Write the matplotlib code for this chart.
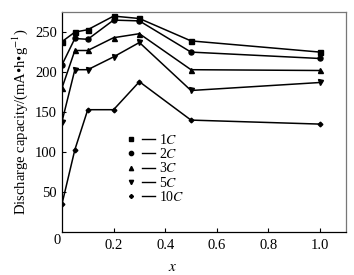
import matplotlib
matplotlib.use("Agg")
import matplotlib.pyplot as plt
from matplotlib.legend_handler import HandlerTuple
from matplotlib.lines import Line2D

plt.rcParams["font.family"] = ["Liberation Serif", "DejaVu Serif"]
plt.rcParams["mathtext.fontset"] = "stix"

x_values = [0, 0.05, 0.1, 0.2, 0.3, 0.5, 1.0]
cap_1c = [238, 250, 253, 270, 267, 239, 225]
cap_2c = [209, 242, 241, 265, 264, 225, 217]
cap_3c = [180, 227, 227, 243, 248, 203, 202]
cap_5c = [138, 203, 203, 219, 237, 177, 187]
cap_10c = [35, 103, 153, 153, 188, 140, 135]

series_labels = ["1$C$", "2$C$", "3$C$", "5$C$", "10$C$"]
series_markers = ["s", "o", "^", "v", "D"]
series_sizes = [3.6, 3.6, 3.6, 3.6, 2.4]

fig = plt.figure(figsize=(3.54, 2.75), dpi=100)
ax = fig.add_axes([0.175, 0.156, 0.802, 0.80])

handles = []
for vals, lab, mk, ms in zip([cap_1c, cap_2c, cap_3c, cap_5c, cap_10c],
                             series_labels, series_markers, series_sizes):
    ax.plot(x_values, vals, color="black", lw=1.1, marker=mk, ms=ms)
    mk_h = Line2D([], [], color="black", marker=mk, ms=ms * 0.85, ls="none")
    ln_h = Line2D([], [], color="black", lw=1.0)
    handles.append((mk_h, ln_h))

ax.legend(handles, series_labels, handler_map={tuple: HandlerTuple(ndivide=None, pad=0.3)},
          loc="lower left", bbox_to_anchor=(0.19, 0.09), frameon=False, fontsize=10,
          handlelength=2.2, handletextpad=0.3, labelspacing=0.02, borderpad=0.1)

ax.set_xlim(0, 1.1)
ax.set_ylim(0, 275)
ax.set_xticks([0.2, 0.4, 0.6, 0.8, 1.0])
ax.set_xticklabels(["0.2", "0.4", "0.6", "0.8", "1.0"])
ax.set_yticks([50, 100, 150, 200, 250])
ax.tick_params(direction="in", labelsize=10.5, length=3, width=0.8, top=False, right=False)
ax.tick_params(axis="x", pad=5)
ax.text(-0.005, -0.01, "0", transform=ax.transAxes, ha="right", va="top", fontsize=10.5)

for side in ["top", "right"]:
    ax.spines[side].set_color("#777777")
for s in ax.spines.values():
    s.set_linewidth(0.9)

ax.set_xlabel("$x$", fontsize=11)
ax.xaxis.set_label_coords(0.39, -0.13)
ax.set_ylabel("Discharge capacity/(mA•h•g$^{-1}$)", fontsize=10.5)

fig.savefig("out.png", dpi=100)
